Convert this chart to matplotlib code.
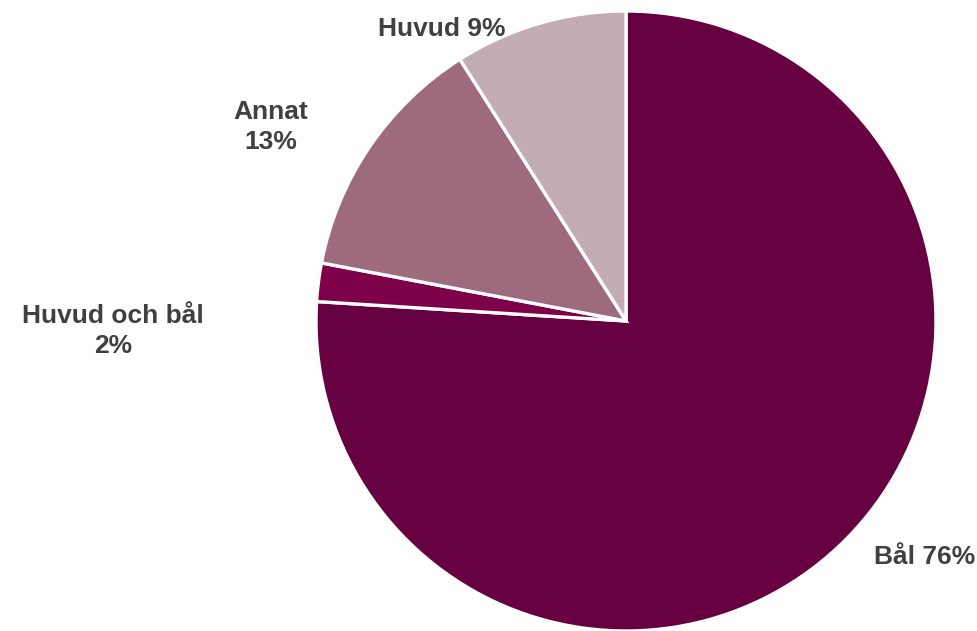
import matplotlib
matplotlib.use('Agg')
import matplotlib.pyplot as plt

categories = ['Bål', 'Huvud och bål', 'Annat', 'Huvud']
shares = [76, 2, 13, 9]
colors = ['#660040', '#7e0048', '#9e6a7e', '#c4acb4']

# label anchor (pixels) and whether the percent goes on its own line
label_pos = [(925, 557), (113, 331), (271, 127), (442, 29)]
label_split = [False, True, True, False]

W, H = 978, 631
fig = plt.figure(figsize=(W / 100, H / 100), dpi=100)
ax = fig.add_axes([0, 0, 1, 1])

ax.pie(shares, colors=colors, startangle=90, counterclock=False,
       center=(626, H - 321), radius=310, frame=True,
       wedgeprops=dict(edgecolor='white', linewidth=2.4))
ax.set_xlim(0, W)
ax.set_ylim(0, H)
ax.set_aspect('equal')
ax.axis('off')

for name, val, (x, y), split in zip(categories, shares, label_pos, label_split):
    sep = '\n' if split else ' '
    ax.text(x, H - y, f'{name}{sep}{val}%', ha='center', va='center',
            fontsize=19, fontweight='bold', color='#404040',
            family=['Liberation Sans', 'DejaVu Sans'], linespacing=1.28)

fig.savefig('out.png', dpi=100)
